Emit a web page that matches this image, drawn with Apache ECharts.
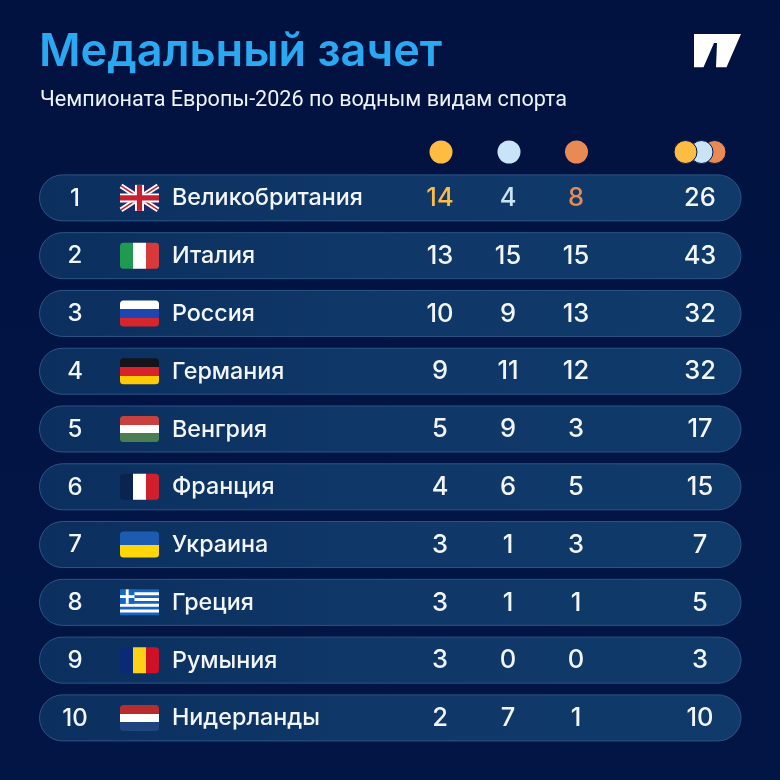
<!DOCTYPE html>
<html><head><meta charset="utf-8">
<style>html,body{margin:0;padding:0;background:#021340}#c{width:780px;height:780px}</style>
<script src="https://cdn.jsdelivr.net/npm/echarts@6/dist/echarts.min.js"></script>
</head><body><div id="c"></div>
<script>
var ranks = ['1','2','3','4','5','6','7','8','9','10'];
var countries = ['Великобритания','Италия','Россия','Германия','Венгрия','Франция','Украина','Греция','Румыния','Нидерланды'];
var gold = [14,13,10,9,5,4,3,3,3,2];
var silver = [4,15,9,11,9,6,1,1,0,7];
var bronze = [8,15,13,12,3,5,3,1,0,1];
var total = [26,43,32,32,17,15,7,5,3,10];
var flagKinds = ['uk','v','h','h','h','v','h','gr','v','h'];
var flagStripes = [
  [],
  ['#1f9a50','#ffffff','#d83a3c'],
  ['#ffffff','#1e46b0','#d5262e'],
  ['#14141a','#d8232a','#ffcb05'],
  ['#c8413e','#ffffff','#4b7f52'],
  ['#0a2350','#ffffff','#d21f2e'],
  ['#1b5cb0','#ffd60a'],
  [],
  ['#0a2a78','#fcd116','#ce1126'],
  ['#b72d2d','#ffffff','#20447f']
];
var FONT = 'Inter';
var colX = {rank:75, flag:139.5, name:172, gold:440, silver:508, bronze:576, total:700};
var GOLD='#ffbc42', SILVER='#c9e4f7', BRONZE='#e98a54';
var INK='#f2f6fb';

function stripes(cols, horizontal){
  var st=[], n=cols.length;
  cols.forEach(function(c,i){
    st.push({offset:i/n,color:c}); st.push({offset:(i+1)/n,color:c});
  });
  return {type:'linear',x:0,y:0,x2:horizontal?0:1,y2:horizontal?1:0,colorStops:st};
}
function ukFlag(x,y){
  var w=39,h=26,l=x-w/2,t=y-h/2,r=l+w,b=t+h,out=[];
  function line(x1,y1,x2,y2,lw,c){out.push({type:'line',shape:{x1:x1,y1:y1,x2:x2,y2:y2},style:{stroke:c,lineWidth:lw}});}
  out.push({type:'rect',shape:{x:l,y:t,width:w,height:h},style:{fill:'#1c2c6b'}});
  line(l+1,t+1,r-1,b-1,5,'#fff'); line(l+1,b-1,r-1,t+1,5,'#fff');
  line(l+1,t+1,r-1,b-1,1.6,'#c8202f'); line(l+1,b-1,r-1,t+1,1.6,'#c8202f');
  out.push({type:'rect',shape:{x:x-4.5,y:t,width:9,height:h},style:{fill:'#fff'}});
  out.push({type:'rect',shape:{x:l,y:y-4.5,width:w,height:9},style:{fill:'#fff'}});
  out.push({type:'rect',shape:{x:x-2.6,y:t,width:5.2,height:h},style:{fill:'#c8202f'}});
  out.push({type:'rect',shape:{x:l,y:y-2.6,width:w,height:5.2},style:{fill:'#c8202f'}});
  return out;
}
function grFlag(x,y){
  var w=39,h=26,l=x-w/2,t=y-h/2,out=[],sh=h/9,i,B='#1565c0';
  out.push({type:'rect',shape:{x:l,y:t,width:w,height:h},style:{fill:B}});
  for(i=1;i<9;i+=2) out.push({type:'rect',shape:{x:l,y:t+i*sh,width:w,height:sh},style:{fill:'#fff'}});
  out.push({type:'rect',shape:{x:l,y:t,width:sh*5,height:sh*5},style:{fill:B}});
  out.push({type:'rect',shape:{x:l+sh*2,y:t,width:sh,height:sh*5},style:{fill:'#fff'}});
  out.push({type:'rect',shape:{x:l,y:t+sh*2,width:sh*5,height:sh},style:{fill:'#fff'}});
  return out;
}
function txt(x,y,s,size,color,weight,align){
  return {type:'text',style:{x:x,y:y,text:String(s),fill:color,font:(weight||500)+' '+size+'px '+FONT,align:align||'center',verticalAlign:'middle'}};
}
function renderRow(params, api){
  var i=params.dataIndex;
  var y=api.coord([0,i])[1];
  var X=function(v){return api.coord([v,i])[0];};
  var left=X(39.5), right=X(741), h=46;
  var kids=[];
  kids.push({type:'rect',shape:{x:left,y:y-h/2,width:right-left,height:h,r:23},
    style:{fill:{type:'linear',x:0,y:0,x2:1,y2:0,colorStops:[{offset:0,color:'#0b2f5e'},{offset:0.5,color:'#0f3868'},{offset:1,color:'#0f3a69'}]},
    stroke:'#2c5585',lineWidth:1}});
  kids.push(txt(X(colX.rank),y+0.5,ranks[i],24,INK,500));
  var fx=X(colX.flag),k=flagKinds[i];
  if(k==='uk') kids=kids.concat(ukFlag(fx,y));
  else if(k==='gr') kids=kids.concat(grFlag(fx,y));
  else kids.push({type:'rect',shape:{x:fx-19.5,y:y-13,width:39,height:26,r:3.5},style:{fill:stripes(flagStripes[i],k==='h')}});
  kids.push(txt(X(colX.name),y+0.5,countries[i],23.3,INK,500,'left'));
  kids.push(txt(X(colX.gold),y+0.5,gold[i],25.5,i===0?GOLD:INK,500));
  kids.push(txt(X(colX.silver),y+0.5,silver[i],25.5,i===0?SILVER:INK,500));
  kids.push(txt(X(colX.bronze),y+0.5,bronze[i],25.5,i===0?BRONZE:INK,500));
  kids.push(txt(X(colX.total),y+0.5,total[i],25.5,INK,500));
  return {type:'group',children:kids};
}
var chart=echarts.init(document.getElementById('c'),null,{renderer:'canvas'});
chart.setOption({
  animation:false,
  backgroundColor:{type:'linear',x:0,y:0,x2:0,y2:1,colorStops:[{offset:0,color:'#011240'},{offset:1,color:'#021646'}]},
  grid:{left:0,right:0,top:169,height:577.8},
  xAxis:{type:'value',min:0,max:780,show:false},
  yAxis:{type:'category',data:ranks,inverse:true,show:false},
  series:[{type:'custom',coordinateSystem:'cartesian2d',clip:false,
    data:ranks.map(function(r,i){return [0,i];}),
    encode:{x:0,y:1},
    renderItem:renderRow}],
  graphic:[
    {type:'text',left:39,top:30,style:{text:'Медальный зачет',fill:'#2aa9f2',font:'600 45.1px '+FONT}},
    {type:'text',left:40,top:90,style:{text:'Чемпионата Европы-2026 по водным видам спорта',fill:'#eef3fa',font:'400 21.6px Roboto'}},
    {type:'polygon',shape:{points:[[694,34],[741,34],[726.5,67.3],[716,67.3],[717,43],[714,43],[703.5,67.3],[694,67.3]]},style:{fill:'#fff'}},
    {type:'circle',shape:{cx:441,cy:152,r:11.5},style:{fill:GOLD}},
    {type:'circle',shape:{cx:509,cy:152,r:11.5},style:{fill:SILVER}},
    {type:'circle',shape:{cx:576.5,cy:152,r:11.5},style:{fill:BRONZE}},
    {type:'circle',shape:{cx:714.5,cy:152,r:11.5},style:{fill:BRONZE,stroke:'#021340',lineWidth:1}},
    {type:'circle',shape:{cx:701.5,cy:152,r:11.5},style:{fill:SILVER,stroke:'#021340',lineWidth:1}},
    {type:'circle',shape:{cx:685.5,cy:152,r:11.5},style:{fill:GOLD,stroke:'#021340',lineWidth:1}}
  ]
});
</script></body></html>
